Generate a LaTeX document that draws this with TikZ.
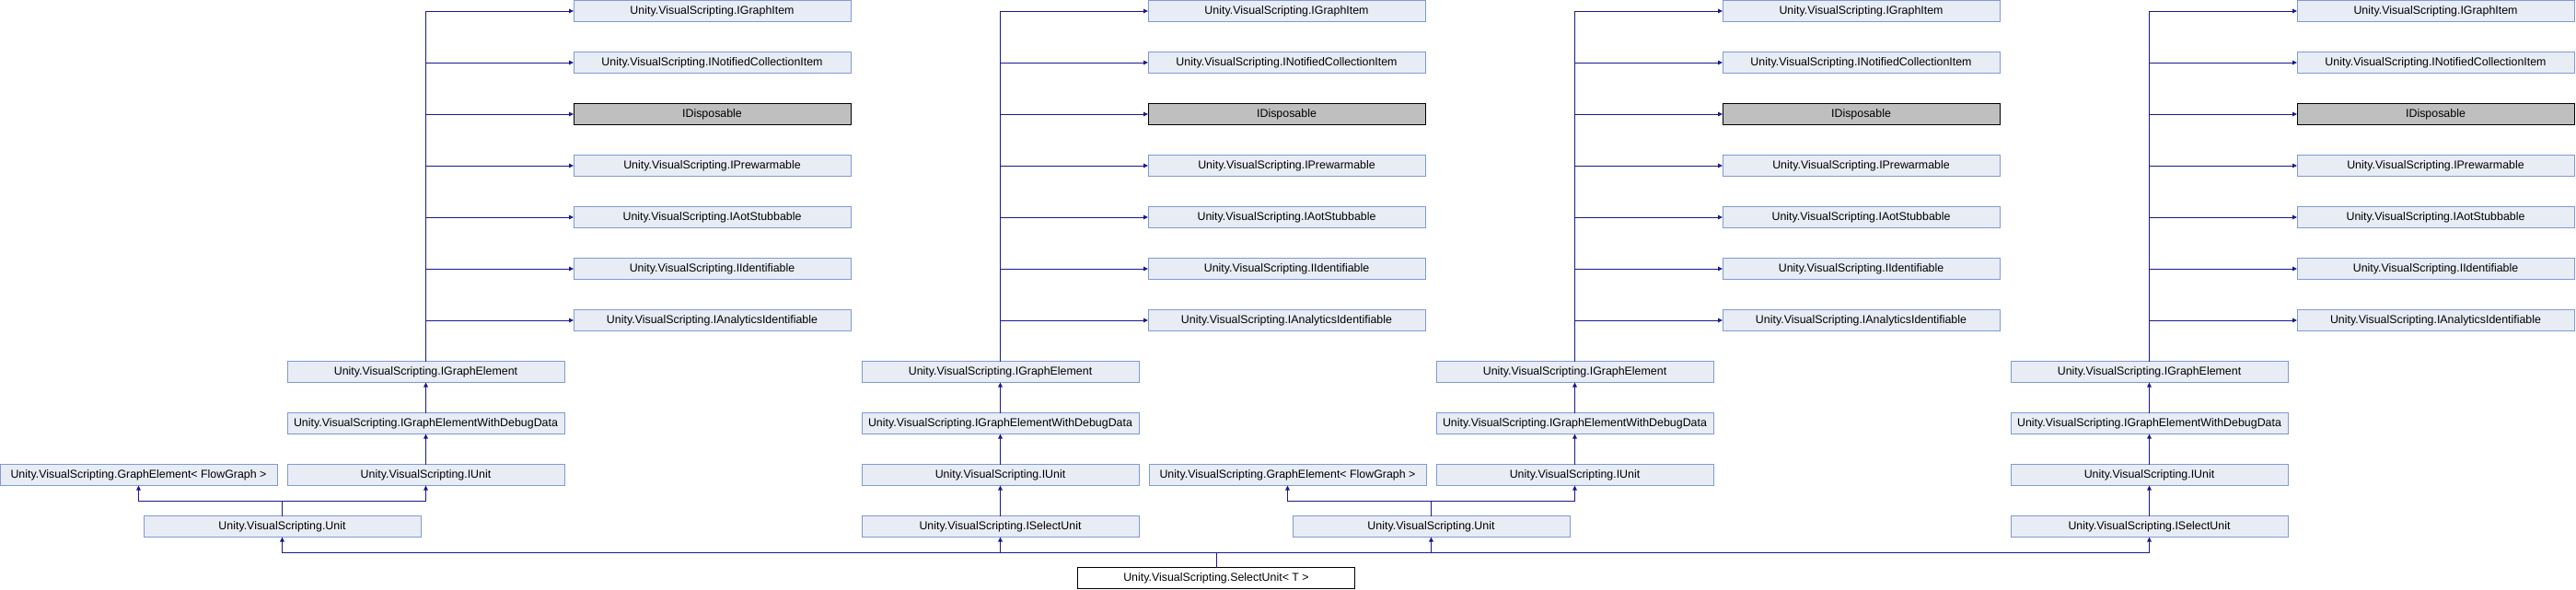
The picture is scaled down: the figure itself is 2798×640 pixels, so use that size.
\documentclass[tikz,border=0pt]{standalone}
\usepackage{fontspec}
\setmainfont{Liberation Sans}
\usetikzlibrary{positioning,calc,arrows.meta}

\definecolor{boxfill}{HTML}{E8ECF5}
\definecolor{boxline}{HTML}{7F9BD4}
\definecolor{edgeblue}{HTML}{1A1A8E}
\definecolor{extfill}{HTML}{BFBFBF}

\begin{document}
\begin{tikzpicture}[x=1pt,y=-1pt,
      every node/.style={rectangle,line width=1pt,inner sep=0pt,outer sep=0pt,
                         minimum width=301pt,minimum height=23pt,
                         text centered,font=\fontsize{12.4}{14}\selectfont},
      box/.style={draw=boxline,fill=boxfill},
      extbox/.style={draw=black,fill=extfill},
      mainbox/.style={draw=black,fill=white},
      parent/.style={draw=edgeblue,line width=1pt,-{Triangle[length=5pt,width=4.5pt]}},
    ]
      \useasboundingbox (0,0) rectangle (2798,640);
      % first copy: Unit branch
      \node[box] (item1) at (773.5,12) {Unity.VisualScripting.IGraphItem};
      \node[box, below=33pt of item1] (notified1) {Unity.VisualScripting.INotifiedCollectionItem};
      \node[extbox, below=33pt of notified1] (disposable1) {IDisposable};
      \node[box, below=33pt of disposable1] (prewarm1) {Unity.VisualScripting.IPrewarmable};
      \node[box, below=33pt of prewarm1] (aot1) {Unity.VisualScripting.IAotStubbable};
      \node[box, below=33pt of aot1] (ident1) {Unity.VisualScripting.IIdentifiable};
      \node[box, below=33pt of ident1] (analytics1) {Unity.VisualScripting.IAnalyticsIdentifiable};
      \node[box, below left=33pt and 10pt of analytics1] (element1) {Unity.VisualScripting.IGraphElement};
      \node[box, below=33pt of element1] (debug1) {Unity.VisualScripting.IGraphElementWithDebugData};
      \node[box, below=33pt of debug1] (iunit1) {Unity.VisualScripting.IUnit};
      \node[box, left=11pt of iunit1] (graphel1) {Unity.VisualScripting.GraphElement< FlowGraph >};
      \node[box] (unit1) at ($(graphel1)!0.5!(iunit1)+(0,-56pt)$) {Unity.VisualScripting.Unit};
      % second copy: ISelectUnit branch
      \node[box] (item2) at (1397.5,12) {Unity.VisualScripting.IGraphItem};
      \node[box, below=33pt of item2] (notified2) {Unity.VisualScripting.INotifiedCollectionItem};
      \node[extbox, below=33pt of notified2] (disposable2) {IDisposable};
      \node[box, below=33pt of disposable2] (prewarm2) {Unity.VisualScripting.IPrewarmable};
      \node[box, below=33pt of prewarm2] (aot2) {Unity.VisualScripting.IAotStubbable};
      \node[box, below=33pt of aot2] (ident2) {Unity.VisualScripting.IIdentifiable};
      \node[box, below=33pt of ident2] (analytics2) {Unity.VisualScripting.IAnalyticsIdentifiable};
      \node[box, below left=33pt and 10pt of analytics2] (element2) {Unity.VisualScripting.IGraphElement};
      \node[box, below=33pt of element2] (debug2) {Unity.VisualScripting.IGraphElementWithDebugData};
      \node[box, below=33pt of debug2] (iunit2) {Unity.VisualScripting.IUnit};
      \node[box, below=33pt of iunit2] (iselect2) {Unity.VisualScripting.ISelectUnit};
      % third copy: Unit branch
      \node[box] (item3) at (2021.5,12) {Unity.VisualScripting.IGraphItem};
      \node[box, below=33pt of item3] (notified3) {Unity.VisualScripting.INotifiedCollectionItem};
      \node[extbox, below=33pt of notified3] (disposable3) {IDisposable};
      \node[box, below=33pt of disposable3] (prewarm3) {Unity.VisualScripting.IPrewarmable};
      \node[box, below=33pt of prewarm3] (aot3) {Unity.VisualScripting.IAotStubbable};
      \node[box, below=33pt of aot3] (ident3) {Unity.VisualScripting.IIdentifiable};
      \node[box, below=33pt of ident3] (analytics3) {Unity.VisualScripting.IAnalyticsIdentifiable};
      \node[box, below left=33pt and 10pt of analytics3] (element3) {Unity.VisualScripting.IGraphElement};
      \node[box, below=33pt of element3] (debug3) {Unity.VisualScripting.IGraphElementWithDebugData};
      \node[box, below=33pt of debug3] (iunit3) {Unity.VisualScripting.IUnit};
      \node[box, left=11pt of iunit3] (graphel3) {Unity.VisualScripting.GraphElement< FlowGraph >};
      \node[box] (unit3) at ($(graphel3)!0.5!(iunit3)+(0,-56pt)$) {Unity.VisualScripting.Unit};
      % fourth copy: ISelectUnit branch
      \node[box] (item4) at (2645.5,12) {Unity.VisualScripting.IGraphItem};
      \node[box, below=33pt of item4] (notified4) {Unity.VisualScripting.INotifiedCollectionItem};
      \node[extbox, below=33pt of notified4] (disposable4) {IDisposable};
      \node[box, below=33pt of disposable4] (prewarm4) {Unity.VisualScripting.IPrewarmable};
      \node[box, below=33pt of prewarm4] (aot4) {Unity.VisualScripting.IAotStubbable};
      \node[box, below=33pt of aot4] (ident4) {Unity.VisualScripting.IIdentifiable};
      \node[box, below=33pt of ident4] (analytics4) {Unity.VisualScripting.IAnalyticsIdentifiable};
      \node[box, below left=33pt and 10pt of analytics4] (element4) {Unity.VisualScripting.IGraphElement};
      \node[box, below=33pt of element4] (debug4) {Unity.VisualScripting.IGraphElementWithDebugData};
      \node[box, below=33pt of debug4] (iunit4) {Unity.VisualScripting.IUnit};
      \node[box, below=33pt of iunit4] (iselect4) {Unity.VisualScripting.ISelectUnit};
      % the class itself
      \node[mainbox] (select) at (1321,628) {Unity.VisualScripting.SelectUnit< T >};
      \coordinate[above=16.5pt of select.north] (hub);
      \coordinate[above=16.5pt of unit1.north] (split1);
      \coordinate[above=16.5pt of unit3.north] (split3);

      \draw[parent] (element1) |- (item1);
      \draw[parent] (element1) |- (notified1);
      \draw[parent] (element1) |- (disposable1);
      \draw[parent] (element1) |- (prewarm1);
      \draw[parent] (element1) |- (aot1);
      \draw[parent] (element1) |- (ident1);
      \draw[parent] (element1) |- (analytics1);
      \path (debug1) edge[parent] (element1);
      \path (iunit1) edge[parent] (debug1);
      \draw[parent] (unit1) -- (split1) -| (graphel1);
      \draw[parent] (split1) -| (iunit1);

      \draw[parent] (element2) |- (item2);
      \draw[parent] (element2) |- (notified2);
      \draw[parent] (element2) |- (disposable2);
      \draw[parent] (element2) |- (prewarm2);
      \draw[parent] (element2) |- (aot2);
      \draw[parent] (element2) |- (ident2);
      \draw[parent] (element2) |- (analytics2);
      \path (debug2) edge[parent] (element2);
      \path (iunit2) edge[parent] (debug2);
      \path (iselect2) edge[parent] (iunit2);

      \draw[parent] (element3) |- (item3);
      \draw[parent] (element3) |- (notified3);
      \draw[parent] (element3) |- (disposable3);
      \draw[parent] (element3) |- (prewarm3);
      \draw[parent] (element3) |- (aot3);
      \draw[parent] (element3) |- (ident3);
      \draw[parent] (element3) |- (analytics3);
      \path (debug3) edge[parent] (element3);
      \path (iunit3) edge[parent] (debug3);
      \draw[parent] (unit3) -- (split3) -| (graphel3);
      \draw[parent] (split3) -| (iunit3);

      \draw[parent] (element4) |- (item4);
      \draw[parent] (element4) |- (notified4);
      \draw[parent] (element4) |- (disposable4);
      \draw[parent] (element4) |- (prewarm4);
      \draw[parent] (element4) |- (aot4);
      \draw[parent] (element4) |- (ident4);
      \draw[parent] (element4) |- (analytics4);
      \path (debug4) edge[parent] (element4);
      \path (iunit4) edge[parent] (debug4);
      \path (iselect4) edge[parent] (iunit4);

      \draw[parent] (select) -- (hub) -| (unit1);
      \draw[parent] (hub) -| (iselect2);
      \draw[parent] (hub) -| (unit3);
      \draw[parent] (hub) -| (iselect4);
    \end{tikzpicture}
\end{document}
